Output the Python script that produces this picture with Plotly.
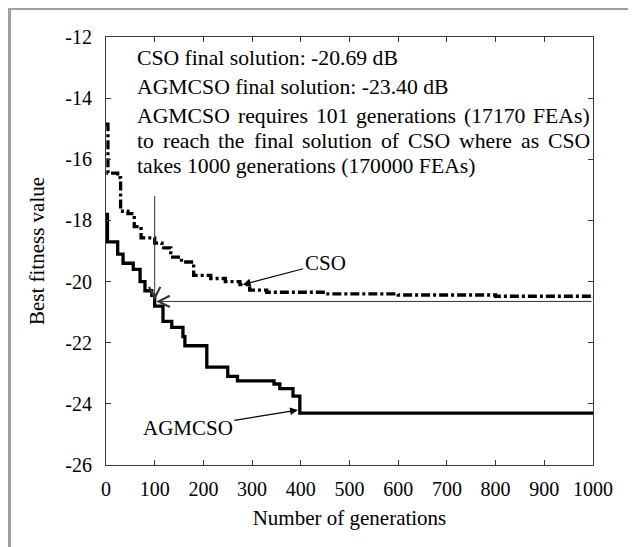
import plotly.graph_objects as go

# ---- data ----
cso_gen = [0, 4, 24, 30, 45, 58, 72, 100, 115, 133, 155, 180, 215, 245, 275, 295, 330, 450, 600, 800, 1000]
cso_fit = [-14.85, -16.45, -16.6, -17.7, -17.78, -18.2, -18.57, -18.74, -18.9, -19.2, -19.36, -19.8, -19.9, -20.0, -20.1, -20.28, -20.35, -20.4, -20.44, -20.48, -20.52]

agm_gen = [0, 3, 24, 35, 56, 70, 80, 94, 100, 117, 135, 158, 162, 207, 250, 270, 345, 357, 384, 398, 1000]
agm_fit = [-17.8, -18.7, -19.1, -19.4, -19.6, -20.0, -20.3, -20.45, -20.8, -21.3, -21.5, -21.8, -22.1, -22.8, -23.1, -23.25, -23.35, -23.5, -23.75, -24.3, -24.3]

x_ticks = [0, 100, 200, 300, 400, 500, 600, 700, 800, 900, 1000]
y_ticks = [-12, -14, -16, -18, -20, -22, -24, -26]
y_tick_labels = ["-12", "-14", "-16", "-18", "-20", "-22", "-24", "-26"]

info_lines = [
    "CSO final solution: -20.69 dB",
    "AGMCSO final solution: -23.40 dB",
    "AGMCSO requires 101 generations (17170 FEAs)",
    "to reach the final solution of CSO where as CSO",
    "takes 1000 generations (170000 FEAs)",
]
info_y = [-12.69, -13.64, -14.58, -15.40, -16.22]
info_justified = [False, False, True, True, False]

FONT = "Liberation Serif"
TXT = 21.7
OFF = 8                      # page body margin
W, H = 636 - OFF, 547 - OFF
ML, MR, MT, MB = 106 - OFF, 43, 37 - OFF, 82
pw, ph = W - ML - MR, H - MT - MB

# Times / Liberation Serif advance widths (per em) for justifying text
CW = {"A": .722, "G": .722, "M": .889, "C": .667, "S": .556, "O": .722, "F": .556, "E": .611,
      "a": .444, "c": .444, "e": .444, "f": .333, "g": .5, "h": .5, "i": .278, "k": .5, "l": .278,
      "n": .5, "o": .5, "q": .5, "r": .333, "s": .389, "t": .278, "u": .5, "w": .722,
      "(": .333, ")": .333, " ": .25}
def text_w(s):
    return sum(CW.get(c, .5) for c in s) * TXT

TEXT_LEFT, TEXT_RIGHT = 135, 588   # page px of the justified block
def page_to_x(p):
    return (p - OFF - ML) / pw * 1000

fig = go.Figure()
fig.add_trace(go.Scatter(x=cso_gen, y=cso_fit, mode="lines", line_shape="hv",
                         line=dict(color="black", width=3.3, dash="9px,3px,3px,3px"),
                         name="CSO", showlegend=False))
fig.add_trace(go.Scatter(x=agm_gen, y=agm_fit, mode="lines", line_shape="hv",
                         line=dict(color="black", width=3.3),
                         name="AGMCSO", showlegend=False))

annotations = []
for t, yy, just in zip(info_lines, info_y, info_justified):
    if not just:
        annotations.append(dict(x=page_to_x(TEXT_LEFT), y=yy, xref="x", yref="y", text=t, showarrow=False,
                                xanchor="left", yanchor="middle",
                                font=dict(family=FONT, size=TXT, color="black")))
    else:
        words = t.split(" ")
        total = sum(text_w(w) for w in words)
        gap = (TEXT_RIGHT - TEXT_LEFT - total) / (len(words) - 1)
        pos = TEXT_LEFT
        for w in words:
            annotations.append(dict(x=page_to_x(pos), y=yy, xref="x", yref="y", text=w, showarrow=False,
                                    xanchor="left", yanchor="middle",
                                    font=dict(family=FONT, size=TXT, color="black")))
            pos += text_w(w) + gap

# vertical arrow at 101 generations
annotations.append(dict(x=100, y=-20.62, ax=100, ay=-17.15, xref="x", yref="y", axref="x", ayref="y",
                        text="", showarrow=True, arrowhead=5, arrowsize=2.2, arrowwidth=1,
                        arrowcolor="#333"))
# horizontal arrow at CSO final level
annotations.append(dict(x=103, y=-20.65, ax=1000, ay=-20.65, xref="x", yref="y", axref="x", ayref="y",
                        text="", showarrow=True, arrowhead=5, arrowsize=2.2, arrowwidth=1,
                        arrowcolor="#333"))
# curve labels
annotations.append(dict(x=281, y=-20.1, ax=450, ay=-19.39, xref="x", yref="y", axref="x", ayref="y",
                        text="CSO", showarrow=True, arrowhead=2, arrowsize=1.3, arrowwidth=1.2,
                        arrowcolor="black", font=dict(family=FONT, size=21, color="black")))
annotations.append(dict(x=394, y=-24.2, ax=168, ay=-24.79, xref="x", yref="y", axref="x", ayref="y",
                        text="AGMCSO", showarrow=True, arrowhead=2, arrowsize=1.3, arrowwidth=1.2,
                        arrowcolor="black", font=dict(family=FONT, size=21, color="black")))

def px(p):   # page pixel -> paper x
    return (p - OFF - ML) / pw
def py(p):   # page pixel -> paper y
    return (H - MB - (p - OFF)) / ph

shapes = [
    dict(type="rect", xref="paper", yref="paper", x0=px(6), x1=px(640), y0=py(10), y1=py(0),
         fillcolor="#a0a0a0", line=dict(width=0), layer="above"),
    dict(type="rect", xref="paper", yref="paper", x0=px(0), x1=px(11), y0=py(560), y1=py(5),
         fillcolor="#a0a0a0", line=dict(width=0), layer="above"),
]

axis_common = dict(showgrid=False, zeroline=False, showline=True, linecolor="#2f3f3f", linewidth=1,
                   mirror="ticks", ticks="inside", ticklen=5, tickcolor="#2f3f3f",
                   tickfont=dict(family=FONT, size=20, color="black"))

fig.update_layout(
    width=W, height=H, margin=dict(l=ML, r=MR, t=MT, b=MB, autoexpand=False),
    paper_bgcolor="white", plot_bgcolor="white",
    font=dict(family=FONT, color="black"),
    xaxis=dict(range=[0, 1000], tickvals=x_ticks, ticklabelstandoff=6, **axis_common,
               title=dict(text="Number of generations", font=dict(family=FONT, size=21, color="black"), standoff=11)),
    yaxis=dict(range=[-26, -12], tickvals=y_ticks, ticktext=y_tick_labels, ticklabelstandoff=9, **axis_common,
               title=dict(text="Best fitness value", font=dict(family=FONT, size=21, color="black"), standoff=14)),
    annotations=annotations, shapes=shapes,
)

fig.write_html("out.html")
